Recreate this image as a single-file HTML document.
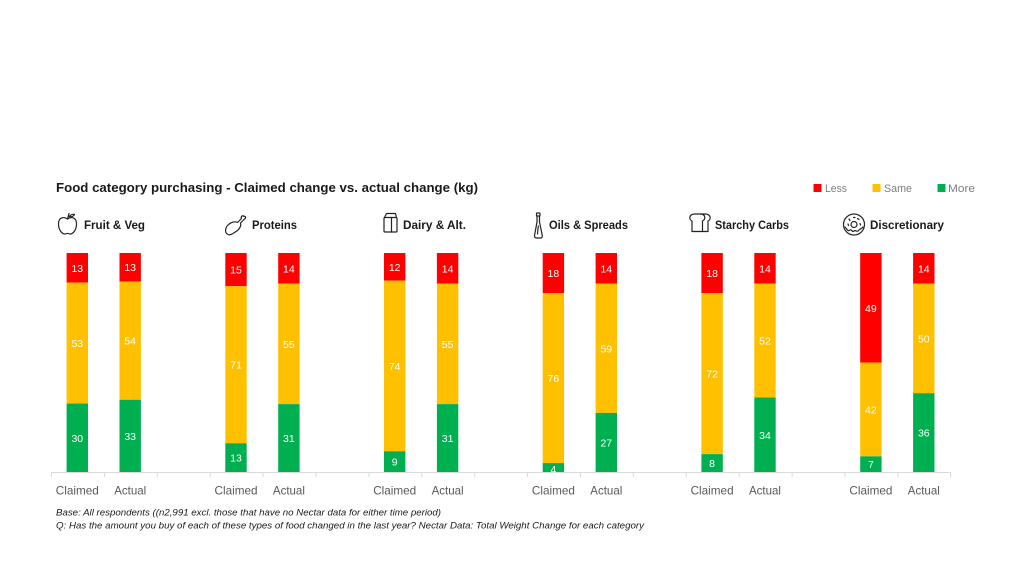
<!DOCTYPE html>
<html>
<head>
<meta charset="utf-8">
<style>
  html,body{margin:0;padding:0;background:#fff;}
  svg{display:block;}
  text{font-family:"Liberation Sans",sans-serif;}
</style>
</head>
<body>
<svg width="1024" height="576" viewBox="0 0 1024 576" xmlns="http://www.w3.org/2000/svg">
  <rect width="1024" height="576" fill="#fff"/>

  <!-- Title -->
  <text x="56" y="192" font-size="13" font-weight="bold" fill="#1a1a1a" textLength="422" lengthAdjust="spacingAndGlyphs">Food category purchasing - Claimed change vs. actual change (kg)</text>

  <!-- Legend -->
  <rect x="813.5" y="184" width="8" height="8" fill="#FF0000"/>
  <text x="825" y="192" font-size="11" fill="#7f7f7f" textLength="22" lengthAdjust="spacingAndGlyphs">Less</text>
  <rect x="872.5" y="184" width="8" height="8" fill="#FFC000"/>
  <text x="884" y="192" font-size="11" fill="#7f7f7f" textLength="28" lengthAdjust="spacingAndGlyphs">Same</text>
  <rect x="937.5" y="184" width="8" height="8" fill="#00B050"/>
  <text x="948" y="192" font-size="11" fill="#7f7f7f" textLength="27" lengthAdjust="spacingAndGlyphs">More</text>

  <!-- Category headers -->
  <g font-size="12" font-weight="bold" fill="#1a1a1a">
    <text x="84" y="229" textLength="61" lengthAdjust="spacingAndGlyphs">Fruit &amp; Veg</text>
    <text x="252" y="229" textLength="45" lengthAdjust="spacingAndGlyphs">Proteins</text>
    <text x="403" y="229" textLength="63" lengthAdjust="spacingAndGlyphs">Dairy &amp; Alt.</text>
    <text x="549" y="229" textLength="79" lengthAdjust="spacingAndGlyphs">Oils &amp; Spreads</text>
    <text x="715" y="229" textLength="74" lengthAdjust="spacingAndGlyphs">Starchy Carbs</text>
    <text x="870" y="229" textLength="74" lengthAdjust="spacingAndGlyphs">Discretionary</text>
  </g>

  <!-- Icons -->
  <g fill="none" stroke="#222" stroke-width="1.2" stroke-linecap="round" stroke-linejoin="round">
    <!-- apple -->
    <path d="M67.5 219 C64 216.5 58.5 217 58.5 224 C58.5 230 62 234 65 234 C66.5 234 67 233.3 67.5 233.3 C68 233.3 68.5 234 70 234 C73 234 76.5 230 76.5 224 C76.5 217 71 216.5 67.5 219 Z"/>
    <path d="M67.5 219 L69 213.5"/>
    <path d="M69 216.5 C71 214.5 73 214 74.5 214.5 C73.5 216.5 71 217.2 69 216.5 Z"/>
    <!-- chicken leg -->
    <path d="M228 234.5 C224.5 233 225 228 228 225 C231 222 235.5 221 237.5 222.5 L241.5 218.5 C240.5 216.5 242.5 215 243.8 216.3 C245.5 215.8 246.5 218 244.5 219 L240.5 223 C241.5 225.5 239.5 229.5 236 231.5 C233 233.5 230.5 235.5 228 234.5 Z"/>
    <!-- dairy carton -->
    <rect x="384" y="217.5" width="13" height="14.5" rx="1"/>
    <path d="M384.5 217.5 L386.5 213.5 L395.5 213.5 L396.5 217.5"/>
    <path d="M391.5 217.5 L391.5 232"/>
    <!-- oil bottle -->
    <rect x="536.5" y="213" width="3.5" height="3" rx="0.5"/>
    <path d="M537 216 L537 222 L534.5 235.5 Q534.5 238 536.5 238 L540.5 238 Q542.5 238 542.3 235.5 L539.5 222 L539.5 216"/>
    <path d="M538.3 226 L537.5 234"/>
    <!-- bread -->
    <path d="M692 231.5 L692 221 C688.5 219.5 689 214 695 214 L700.5 214 C705.5 214 706 219.5 702.5 221 L702.5 231.5 Z"/>
    <path d="M700.5 214 L705 214 C711 214 711.5 219.5 708 221 L708 231.5 L702.5 231.5"/>
    <!-- donut -->
    <circle cx="854" cy="224.5" r="10.5"/>
    <circle cx="854" cy="224.5" r="3"/>
    <path d="M845 227 C847 229 848 232 850 230 C851.5 228.5 852 233 854 231 C856 229.5 857 233 859 230 C860.5 228.5 861.5 229 863 227"/>
    <path d="M849 219 L850 220.5 M857.5 218.5 L859 219.5 M853.5 217.5 L855 217.5 M848 224 L848.5 225.5 M860 223.5 L860.5 225"/>
  </g>

  <!-- Axis -->
  <g stroke="#D9D9D9" stroke-width="1">
    <line x1="51" y1="472.5" x2="951" y2="472.5"/>
    <line x1="51.5" y1="472" x2="51.5" y2="477"/>
    <line x1="104.4" y1="472" x2="104.4" y2="477"/>
    <line x1="157.3" y1="472" x2="157.3" y2="477"/>
    <line x1="210.2" y1="472" x2="210.2" y2="477"/>
    <line x1="263.1" y1="472" x2="263.1" y2="477"/>
    <line x1="316.0" y1="472" x2="316.0" y2="477"/>
    <line x1="368.9" y1="472" x2="368.9" y2="477"/>
    <line x1="421.8" y1="472" x2="421.8" y2="477"/>
    <line x1="474.7" y1="472" x2="474.7" y2="477"/>
    <line x1="527.6" y1="472" x2="527.6" y2="477"/>
    <line x1="580.5" y1="472" x2="580.5" y2="477"/>
    <line x1="633.4" y1="472" x2="633.4" y2="477"/>
    <line x1="686.3" y1="472" x2="686.3" y2="477"/>
    <line x1="739.2" y1="472" x2="739.2" y2="477"/>
    <line x1="792.1" y1="472" x2="792.1" y2="477"/>
    <line x1="845.0" y1="472" x2="845.0" y2="477"/>
    <line x1="897.9" y1="472" x2="897.9" y2="477"/>
    <line x1="950.5" y1="472" x2="950.5" y2="477"/>
  </g>

  <!-- Bars -->
  <!-- Fruit Claimed c=77.3 -->
  <rect x="66.6" y="253" width="21.4" height="29.66" fill="#FF0000"/>
  <rect x="66.6" y="282.66" width="21.4" height="120.9" fill="#FFC000"/>
  <rect x="66.6" y="403.56" width="21.4" height="68.44" fill="#00B050"/>
  <!-- Fruit Actual c=130.2 -->
  <rect x="119.5" y="253" width="21.4" height="28.47" fill="#FF0000"/>
  <rect x="119.5" y="281.47" width="21.4" height="118.26" fill="#FFC000"/>
  <rect x="119.5" y="399.73" width="21.4" height="72.27" fill="#00B050"/>
  <!-- Proteins Claimed c=236 -->
  <rect x="225.3" y="253" width="21.4" height="33.18" fill="#FF0000"/>
  <rect x="225.3" y="286.18" width="21.4" height="157.06" fill="#FFC000"/>
  <rect x="225.3" y="443.24" width="21.4" height="28.76" fill="#00B050"/>
  <!-- Proteins Actual c=288.9 -->
  <rect x="278.2" y="253" width="21.4" height="30.66" fill="#FF0000"/>
  <rect x="278.2" y="283.66" width="21.4" height="120.45" fill="#FFC000"/>
  <rect x="278.2" y="404.11" width="21.4" height="67.89" fill="#00B050"/>
  <!-- Dairy Claimed c=394.7 -->
  <rect x="384" y="253" width="21.4" height="27.66" fill="#FF0000"/>
  <rect x="384" y="280.66" width="21.4" height="170.59" fill="#FFC000"/>
  <rect x="384" y="451.25" width="21.4" height="20.75" fill="#00B050"/>
  <!-- Dairy Actual c=447.6 -->
  <rect x="436.9" y="253" width="21.4" height="30.66" fill="#FF0000"/>
  <rect x="436.9" y="283.66" width="21.4" height="120.45" fill="#FFC000"/>
  <rect x="436.9" y="404.11" width="21.4" height="67.89" fill="#00B050"/>
  <!-- Oils Claimed c=553.4 -->
  <rect x="542.7" y="253" width="21.4" height="40.22" fill="#FF0000"/>
  <rect x="542.7" y="293.22" width="21.4" height="169.84" fill="#FFC000"/>
  <rect x="542.7" y="463.06" width="21.4" height="8.94" fill="#00B050"/>
  <!-- Oils Actual c=606.3 -->
  <rect x="595.6" y="253" width="21.4" height="30.66" fill="#FF0000"/>
  <rect x="595.6" y="283.66" width="21.4" height="129.21" fill="#FFC000"/>
  <rect x="595.6" y="412.87" width="21.4" height="59.13" fill="#00B050"/>
  <!-- Starchy Claimed c=712.1 -->
  <rect x="701.4" y="253" width="21.4" height="40.22" fill="#FF0000"/>
  <rect x="701.4" y="293.22" width="21.4" height="160.9" fill="#FFC000"/>
  <rect x="701.4" y="454.12" width="21.4" height="17.88" fill="#00B050"/>
  <!-- Starchy Actual c=765 -->
  <rect x="754.3" y="253" width="21.4" height="30.66" fill="#FF0000"/>
  <rect x="754.3" y="283.66" width="21.4" height="113.88" fill="#FFC000"/>
  <rect x="754.3" y="397.54" width="21.4" height="74.46" fill="#00B050"/>
  <!-- Disc Claimed c=870.9 -->
  <rect x="860.2" y="253" width="21.4" height="109.5" fill="#FF0000"/>
  <rect x="860.2" y="362.5" width="21.4" height="93.86" fill="#FFC000"/>
  <rect x="860.2" y="456.36" width="21.4" height="15.64" fill="#00B050"/>
  <!-- Disc Actual c=923.8 -->
  <rect x="913.1" y="253" width="21.4" height="30.66" fill="#FF0000"/>
  <rect x="913.1" y="283.66" width="21.4" height="109.5" fill="#FFC000"/>
  <rect x="913.1" y="393.16" width="21.4" height="78.84" fill="#00B050"/>

  <!-- Data labels -->
  <g font-size="10.5" fill="#ffffff" text-anchor="middle">
    <text x="77.3" y="271.8">13</text>
    <text x="77.3" y="347.1">53</text>
    <text x="77.3" y="441.8">30</text>
    <text x="130.2" y="271.2">13</text>
    <text x="130.2" y="344.6">54</text>
    <text x="130.2" y="439.9">33</text>

    <text x="236" y="273.6">15</text>
    <text x="236" y="368.7">71</text>
    <text x="236" y="461.6">13</text>
    <text x="288.9" y="272.3">14</text>
    <text x="288.9" y="347.9">55</text>
    <text x="288.9" y="442.1">31</text>

    <text x="394.7" y="270.8">12</text>
    <text x="394.7" y="370">74</text>
    <text x="394.7" y="465.6">9</text>
    <text x="447.6" y="272.3">14</text>
    <text x="447.6" y="347.9">55</text>
    <text x="447.6" y="442.1">31</text>

    <text x="553.4" y="277.1">18</text>
    <text x="553.4" y="382.1">76</text>
    <text x="553.4" y="473">4</text>
    <text x="606.3" y="272.3">14</text>
    <text x="606.3" y="352.3">59</text>
    <text x="606.3" y="446.4">27</text>

    <text x="712.1" y="277.1">18</text>
    <text x="712.1" y="377.7">72</text>
    <text x="712.1" y="467.1">8</text>
    <text x="765" y="272.3">14</text>
    <text x="765" y="344.6">52</text>
    <text x="765" y="438.8">34</text>

    <text x="870.9" y="311.8">49</text>
    <text x="870.9" y="413.4">42</text>
    <text x="870.9" y="468.2">7</text>
    <text x="923.8" y="272.3">14</text>
    <text x="923.8" y="342.4">50</text>
    <text x="923.8" y="436.6">36</text>
  </g>

  <!-- X labels -->
  <g font-size="12" fill="#595959" text-anchor="middle">
    <text x="77.3" y="494.5" textLength="43" lengthAdjust="spacingAndGlyphs">Claimed</text>
    <text x="130.2" y="494.5" textLength="32" lengthAdjust="spacingAndGlyphs">Actual</text>
    <text x="236" y="494.5" textLength="43" lengthAdjust="spacingAndGlyphs">Claimed</text>
    <text x="288.9" y="494.5" textLength="32" lengthAdjust="spacingAndGlyphs">Actual</text>
    <text x="394.7" y="494.5" textLength="43" lengthAdjust="spacingAndGlyphs">Claimed</text>
    <text x="447.6" y="494.5" textLength="32" lengthAdjust="spacingAndGlyphs">Actual</text>
    <text x="553.4" y="494.5" textLength="43" lengthAdjust="spacingAndGlyphs">Claimed</text>
    <text x="606.3" y="494.5" textLength="32" lengthAdjust="spacingAndGlyphs">Actual</text>
    <text x="712.1" y="494.5" textLength="43" lengthAdjust="spacingAndGlyphs">Claimed</text>
    <text x="765" y="494.5" textLength="32" lengthAdjust="spacingAndGlyphs">Actual</text>
    <text x="870.9" y="494.5" textLength="43" lengthAdjust="spacingAndGlyphs">Claimed</text>
    <text x="923.8" y="494.5" textLength="32" lengthAdjust="spacingAndGlyphs">Actual</text>
  </g>

  <!-- Footnotes -->
  <g font-size="9.5" font-style="italic" fill="#1a1a1a">
    <text x="56" y="515.5" textLength="385" lengthAdjust="spacingAndGlyphs">Base: All respondents ((n2,991 excl. those that have no Nectar data for either time period)</text>
    <text x="56" y="528.5" textLength="588" lengthAdjust="spacingAndGlyphs">Q: Has the amount you buy of each of these types of food changed in the last year? Nectar Data: Total Weight Change for each category</text>
  </g>
</svg>
</body>
</html>
